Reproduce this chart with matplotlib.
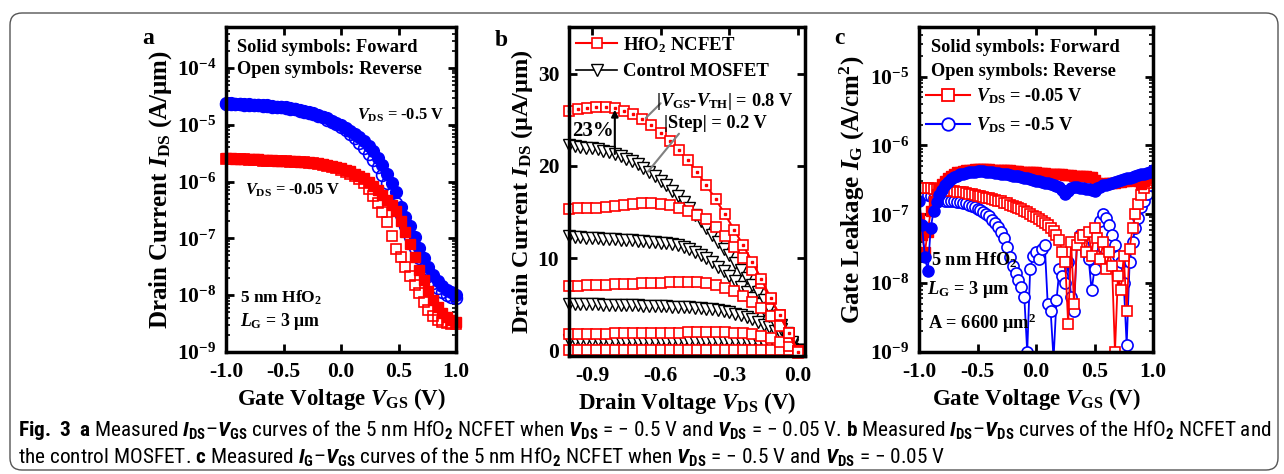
import numpy as np
import matplotlib
matplotlib.use('Agg')
import matplotlib.pyplot as plt
from matplotlib import font_manager
from matplotlib.lines import Line2D
from matplotlib.patches import FancyBboxPatch
from matplotlib.transforms import IdentityTransform
from matplotlib.ticker import FuncFormatter, LogLocator, NullFormatter, FixedLocator

# ---------------- data ----------------
# panel a: log10(I_DS) vs V_GS, sweep -1..1 step 0.04
vgs_a = np.linspace(-1.0, 1.0, 51)
a_blue_fwd = [-4.62, -4.62, -4.63, -4.63, -4.64, -4.64, -4.65, -4.65, -4.66, -4.66,
              -4.67, -4.68, -4.68, -4.69, -4.71, -4.72, -4.74, -4.76, -4.78, -4.80,
              -4.83, -4.86, -4.89, -4.93, -4.97, -5.01, -5.06, -5.11, -5.16, -5.22,
              -5.29, -5.37, -5.46, -5.58, -5.71, -5.86, -6.02, -6.19, -6.45, -6.62,
              -6.79, -6.98, -7.17, -7.35, -7.51, -7.64, -7.75, -7.83, -7.90, -7.95,
              -8.00]
a_blue_rev = [-4.63, -4.63, -4.64, -4.64, -4.65, -4.65, -4.66, -4.66, -4.67, -4.67,
              -4.68, -4.69, -4.69, -4.70, -4.72, -4.73, -4.75, -4.77, -4.79, -4.81,
              -4.84, -4.87, -4.91, -4.95, -4.99, -5.04, -5.10, -5.17, -5.24, -5.32,
              -5.41, -5.51, -5.62, -5.74, -5.88, -6.03, -6.20, -6.38, -6.58, -6.78,
              -6.98, -7.17, -7.35, -7.52, -7.67, -7.79, -7.88, -7.95, -8.00, -8.03,
              -8.05]
a_red_fwd = [-5.59, -5.59, -5.60, -5.60, -5.60, -5.61, -5.61, -5.61, -5.62, -5.62,
             -5.62, -5.63, -5.63, -5.63, -5.64, -5.64, -5.65, -5.65, -5.66, -5.67,
             -5.68, -5.69, -5.70, -5.72, -5.74, -5.76, -5.79, -5.82, -5.86, -5.90,
             -5.94, -6.00, -6.07, -6.15, -6.24, -6.33, -6.42, -6.52, -6.70, -6.88,
             -7.10, -7.33, -7.55, -7.74, -7.92, -8.08, -8.21, -8.31, -8.38, -8.43,
             -8.47]
a_red_rev = [-5.60, -5.60, -5.61, -5.61, -5.61, -5.62, -5.62, -5.62, -5.63, -5.63,
             -5.63, -5.64, -5.64, -5.64, -5.65, -5.65, -5.66, -5.66, -5.67, -5.68,
             -5.69, -5.70, -5.72, -5.74, -5.76, -5.79, -5.83, -5.87, -5.91, -5.95,
             -6.03, -6.13, -6.25, -6.38, -6.53, -6.72, -6.95, -7.18, -7.33, -7.50,
             -7.66, -7.82, -7.97, -8.12, -8.26, -8.37, -8.44, -8.47, -8.49, -8.50,
             -8.50]

# panel b: I_DS (uA/um) vs V_DS
vds_red = np.linspace(-1.0, 0.0, 26)
vds_blk = np.linspace(-1.0, 0.0, 41)
red_08 = [26.0, 26.2, 26.3, 26.4, 26.4, 26.3, 26.0, 25.6, 25.1, 24.4, 23.6, 22.7, 21.7,
          20.6, 19.3, 17.9, 16.4, 14.8, 13.1, 11.4, 9.6, 7.7, 5.7, 3.8, 1.9, -0.2]
red_06 = [15.3, 15.4, 15.5, 15.5, 15.6, 15.7, 15.8, 15.9, 16.0, 16.0, 15.9, 15.8, 15.5,
          15.1, 14.7, 14.2, 13.4, 12.4, 11.2, 10.0, 8.7, 7.3, 5.6, 3.8, 1.9, -0.1]
red_04 = [7.0, 7.0, 7.1, 7.1, 7.1, 7.2, 7.2, 7.2, 7.3, 7.3, 7.3, 7.4, 7.4,
          7.4, 7.4, 7.3, 7.1, 6.8, 6.4, 5.9, 5.3, 4.6, 3.7, 2.7, 1.5, -0.1]
red_02 = [1.8, 1.8, 1.8, 1.8, 1.8, 1.9, 1.9, 1.9, 1.9, 1.9, 1.9, 1.9, 1.9,
          2.0, 2.0, 2.0, 2.0, 2.0, 1.9, 1.9, 1.8, 1.6, 1.3, 0.9, 0.5, -0.1]
red_00 = [0.0, 0.0, 0.0, 0.0, 0.0, 0.0, 0.0, 0.0, 0.0, 0.0, 0.0, 0.0, 0.0,
          0.0, 0.0, 0.0, 0.0, 0.0, 0.0, 0.0, 0.0, 0.0, 0.0, 0.0, 0.0, -0.3]
blk_08 = [22.3, 22.2, 22.1, 22.0, 21.9, 21.8, 21.6, 21.5, 21.3, 21.1,
          20.8, 20.5, 20.2, 19.8, 19.4, 18.9, 18.4, 17.9, 17.3, 16.7,
          16.1, 15.4, 14.7, 14.0, 13.3, 12.5, 11.8, 11.0, 10.3, 9.5,
          8.7, 7.9, 7.1, 6.3, 5.5, 4.6, 3.7, 2.8, 1.9, 0.9, 0.0]
blk_06 = [12.4, 12.3, 12.3, 12.2, 12.2, 12.2, 12.1, 12.1, 12.1, 12.0,
          12.0, 12.0, 11.9, 11.9, 11.8, 11.8, 11.7, 11.6, 11.5, 11.4,
          11.2, 11.0, 10.7, 10.4, 10.0, 9.6, 9.1, 8.6, 8.1, 7.5,
          6.9, 6.3, 5.7, 5.0, 4.4, 3.7, 3.0, 2.3, 1.5, 0.8, 0.0]
blk_04 = [5.0, 5.0, 5.0, 5.0, 5.0, 5.0, 4.9, 4.9, 4.9, 4.9,
          4.9, 4.9, 4.9, 4.8, 4.8, 4.8, 4.8, 4.8, 4.7, 4.7,
          4.7, 4.7, 4.6, 4.6, 4.5, 4.5, 4.4, 4.3, 4.2, 4.0,
          3.8, 3.6, 3.4, 3.1, 2.8, 2.5, 2.1, 1.7, 1.2, 0.6, 0.0]
blk_02 = [1.1, 1.1, 1.1, 1.1, 1.1, 1.1, 1.1, 1.0, 1.0, 1.0,
          1.0, 1.0, 1.0, 1.0, 1.0, 1.0, 1.0, 1.0, 1.0, 1.0,
          1.0, 1.0, 1.0, 1.0, 1.0, 1.0, 1.0, 1.0, 1.0, 1.0,
          1.0, 1.0, 0.95, 0.9, 0.85, 0.8, 0.7, 0.55, 0.4, 0.2, 0.0]

# panel c: log10(I_G) vs V_GS, sweep -1..1 step 0.025
vgs_c = np.linspace(-1.0, 1.0, 81)
c_blue_fwd = [-6.80, -7.15, -7.62, -7.82, -7.20, -6.95, -6.82, -6.72, -6.64, -6.58,
              -6.53, -6.49, -6.46, -6.44, -6.42, -6.41, -6.40, -6.39, -6.38, -6.38,
              -6.37, -6.37, -6.37, -6.38, -6.38, -6.39, -6.40, -6.40, -6.41, -6.42,
              -6.42, -6.43, -6.44, -6.45, -6.45, -6.46, -6.47, -6.48, -6.49, -6.50,
              -6.51, -6.52, -6.53, -6.54, -6.55, -6.56, -6.57, -6.59, -6.61, -6.65,
              -6.70, -6.66, -6.62, -6.61, -6.61, -6.62, -6.62, -6.63, -6.63, -6.64,
              -6.66, -6.62, -6.60, -6.58, -6.57, -6.56, -6.55, -6.53, -6.52, -6.50,
              -6.49, -6.48, -6.47, -6.46, -6.44, -6.43, -6.42, -6.41, -6.40, -6.38,
              -6.36]
c_red_fwd = [-7.05, -7.30, -7.55, -7.25, -6.95, -6.80, -6.70, -6.62, -6.56, -6.51,
             -6.47, -6.44, -6.41, -6.39, -6.38, -6.37, -6.36, -6.35, -6.35, -6.34,
             -6.34, -6.34, -6.34, -6.34, -6.34, -6.35, -6.35, -6.35, -6.35, -6.36,
             -6.36, -6.36, -6.37, -6.37, -6.37, -6.38, -6.38, -6.38, -6.39, -6.39,
             -6.39, -6.40, -6.40, -6.40, -6.41, -6.41, -6.41, -6.42, -6.42, -6.42,
             -6.43, -6.43, -6.43, -6.44, -6.44, -6.44, -6.45, -6.45, -6.46, -6.46,
             -6.50, -6.55, -6.56, -6.56, -6.55, -6.55, -6.54, -6.54, -6.53, -6.53,
             -6.52, -6.51, -6.50, -6.49, -6.48, -6.52, -6.56, -6.52, -6.48, -6.44,
             -6.40]
c_red_rev = [-6.62, -6.62, -6.62, -6.62, -6.62, -6.63, -6.63, -6.64, -6.64, -6.65,
             -6.65, -6.66, -6.66, -6.67, -6.67, -6.68, -6.69, -6.70, -6.71, -6.72,
             -6.73, -6.74, -6.75, -6.76, -6.77, -6.78, -6.79, -6.80, -6.81, -6.83,
             -6.84, -6.86, -6.88, -6.89, -6.91, -6.93, -6.95, -6.97, -6.99, -7.02,
             -7.04, -7.07, -7.10, -7.13, -7.16, -7.20, -7.24, -7.30, -7.38, -7.55,
             -7.70, -8.60, -7.40, -8.30, -7.45, -7.35, -7.30, -7.55, -7.25, -7.60,
             -7.20, -7.35, -7.65, -7.40, -7.80, -7.55, -7.75, -9.00, -7.90, -8.10,
             -7.60, -8.40, -7.50, -7.20, -7.00, -6.85, -6.72, -6.62, -6.55, -6.50,
             -6.45]
c_blue_rev = [-6.72, -6.70, -6.70, -6.72, -6.74, -6.76, -6.77, -6.78, -6.79, -6.80,
              -6.80, -6.81, -6.81, -6.82, -6.82, -6.83, -6.84, -6.86, -6.88, -6.90,
              -6.92, -6.94, -6.97, -7.00, -7.03, -7.08, -7.13, -7.18, -7.25, -7.35,
              -7.48, -7.62, -7.75, -7.85, -7.95, -8.05, -8.20, -9.00, -7.80, -7.60,
              -7.55, -7.65, -7.50, -7.45, -8.30, -8.40, -9.10, -8.25, -7.80, -7.90,
              -8.00, -7.70, -8.20, -8.40, -7.40, -7.30, -7.45, -7.55, -7.65, -8.10,
              -7.80, -7.60, -7.10, -7.00, -7.05, -7.15, -7.30, -7.45, -7.60, -7.70,
              -8.00, -8.90, -7.70, -7.40, -7.20, -7.05, -6.90, -6.80, -6.70, -6.58,
              -6.45]

# ---------------- fonts ----------------
names = {f.name for f in font_manager.fontManager.ttflist}
cap_font = 'Liberation Sans'
for n in ['Liberation Sans Narrow', 'Roboto Condensed', 'Liberation Sans']:
    if n in names:
        cap_font = n
        break

plt.rcParams['font.family'] = 'Liberation Serif'
plt.rcParams['font.weight'] = 'bold'
plt.rcParams['axes.labelweight'] = 'bold'
plt.rcParams['mathtext.fontset'] = 'custom'
plt.rcParams['mathtext.rm'] = 'Liberation Serif:bold'
plt.rcParams['mathtext.it'] = 'Liberation Serif:italic:bold'
plt.rcParams['mathtext.bf'] = cap_font + ':bold'
plt.rcParams['mathtext.sf'] = cap_font
plt.rcParams['mathtext.tt'] = cap_font + ':italic'
plt.rcParams['axes.unicode_minus'] = False

W, H = 1284, 474
fig = plt.figure(figsize=(W / 100, H / 100), dpi=100)


def add_ax(l, t, r, b):
    return fig.add_axes([l / W, 1 - b / H, (r - l) / W, (b - t) / H])


def ftext(x, y, s, **kw):
    kw.setdefault('fontsize', 13.2)
    kw.setdefault('ha', 'left')
    kw.setdefault('va', 'center')
    return fig.text(x / W, 1 - y / H, s, **kw)


def style(ax):
    for sp in ax.spines.values():
        sp.set_linewidth(2.5)
    ax.tick_params(which='both', direction='in', top=True, right=True, labelsize=15.5)
    ax.tick_params(which='major', length=6, width=2, pad=7)
    ax.tick_params(which='minor', length=3, width=1.2)
    for t in ax.get_xticklabels() + ax.get_yticklabels():
        t.set_fontweight('bold')


logfmt = FuncFormatter(lambda v, p: r'$\mathrm{10^{%d}}$' % round(np.log10(v)))
xfmt = FuncFormatter(lambda v, p: '%.1f' % v)
YL = 18

# ---------------- panel a ----------------
ax = add_ax(226, 27, 456, 352)
ax.plot(vgs_a, 10 ** np.array(a_blue_fwd), 'o', color='#0000ff', ms=8.5, mec='#0000ff', clip_on=False)
ax.plot(vgs_a, 10 ** np.array(a_blue_rev), 'o', color='#0000ff', ms=8.5, mfc='none', mew=1.2, clip_on=False)
ax.plot(vgs_a, 10 ** np.array(a_red_fwd), 's', color='#ff0000', ms=7.5, clip_on=False)
ax.plot(vgs_a, 10 ** np.array(a_red_rev), 's', color='#ff0000', ms=7.5, mfc='none', mew=1.2, clip_on=False)
ax.set_yscale('log')
ax.set_xlim(-1.0, 1.0)
ax.set_ylim(1e-9, 10 ** -3.28)
ax.set_xticks([-1.0, -0.5, 0.0, 0.5, 1.0])
ax.xaxis.set_major_formatter(xfmt)
ax.yaxis.set_major_locator(FixedLocator([1e-9, 1e-8, 1e-7, 1e-6, 1e-5, 1e-4]))
ax.yaxis.set_major_formatter(logfmt)
ax.yaxis.set_minor_locator(LogLocator(base=10, subs=np.arange(2, 10)))
ax.yaxis.set_minor_formatter(NullFormatter())
style(ax)
ax.set_xlabel(r'Gate Voltage $\mathit{V}_\mathrm{GS}$ (V)', fontsize=16.5, labelpad=3)
ax.set_ylabel(r'Drain Current $\mathit{I}_\mathrm{DS}$ (A/μm)', fontsize=YL, labelpad=2)

ftext(237, 47, 'Solid symbols: Foward')
ftext(237, 70, 'Open symbols: Reverse')
ftext(357, 115, r'$\mathit{V}_\mathrm{DS}$ = -0.5 V', fontsize=11.8)
ftext(245, 190, r'$\mathit{V}_\mathrm{DS}$ = -0.05 V', fontsize=11.8)
ftext(240, 298, r'5 nm HfO$_\mathrm{2}$', fontsize=12.5)
ftext(240, 322, r'$\mathit{L}_\mathrm{G}$ = 3 μm', fontsize=12.8)

# ---------------- panel b ----------------
ax = add_ax(569, 27, 805, 356)
kb = dict(marker='v', color='black', ms=8.5, mfc='white', mew=1.0, lw=1.2)
kr = dict(marker='s', color='#ff0000', ms=7.5, mfc='white', mew=1.2, lw=1.5)
for yv in [blk_02, blk_04, blk_06, blk_08]:
    ax.plot(vds_blk, yv, clip_on=False, **kb)
for yv in [red_00, red_02, red_04, red_06]:
    ax.plot(vds_red, yv, clip_on=False, **kr)
ax.plot(vds_red, red_08, clip_on=False, **kr)
ax.plot(vds_red, red_08, 's', color='#ff0000', ms=1.5, clip_on=False)
ax.set_xlim(-1.0, 0.03)
ax.set_ylim(-0.6, 35.07)
ax.set_xticks([-0.9, -0.6, -0.3, 0.0])
ax.xaxis.set_major_formatter(xfmt)
ax.set_yticks([0, 10, 20, 30])
style(ax)
ax.set_xlabel(r'Drain Voltage $\mathit{V}_\mathrm{DS}$ (V)', fontsize=16.5, labelpad=3)
ax.set_ylabel(r'Drain Current $\mathit{I}_\mathrm{DS}$ (μA/μm)', fontsize=YL - 0.5, labelpad=2)

hb = [Line2D([], [], **kr), Line2D([], [], **kb)]
ax.legend(hb, [r'HfO$_\mathrm{2}$ NCFET', 'Control MOSFET'], loc='upper left',
          bbox_to_anchor=(576 / W, 1 - 35 / H), bbox_transform=fig.transFigure,
          frameon=False, fontsize=13.5, handlelength=2.2, handletextpad=0.3,
          labelspacing=0.45, borderpad=0, borderaxespad=0)

ax.annotate('', xy=(-0.80, 26.1), xytext=(-0.80, 21.3),
            arrowprops=dict(arrowstyle='-|>', color='black', lw=1.5, mutation_scale=10,
                            shrinkA=0, shrinkB=0))
ax.annotate('', xy=(-0.665, 25.2), xytext=(-0.60, 26.8),
            arrowprops=dict(arrowstyle='-', color='gray', lw=1.5, shrinkA=0, shrinkB=0))
ax.annotate('', xy=(-0.655, 19.4), xytext=(-0.52, 23.5),
            arrowprops=dict(arrowstyle='-', color='gray', lw=1.5, shrinkA=0, shrinkB=0))
ftext(572, 131, '23%', fontsize=15)
ftext(656, 101, r'|$\mathit{V}_\mathrm{GS}$-$\mathit{V}_\mathrm{TH}$| = 0.8 V')
ftext(664, 124, '|Step| = 0.2 V')

# ---------------- panel c ----------------
ax = add_ax(919, 27, 1153, 352)
ax.plot(vgs_c, 10 ** np.array(c_blue_rev), 'o-', color='#0000ff', ms=8, mfc='white', mew=1.2, lw=1.3)
ax.plot(vgs_c, 10 ** np.array(c_red_rev), 's-', color='#ff0000', ms=7, mfc='white', mew=1.2, lw=1.3)
ax.plot(vgs_c, 10 ** np.array(c_red_fwd), 's-', color='#ff0000', ms=7, lw=1.3)
ax.plot(vgs_c, 10 ** np.array(c_blue_fwd), 'o-', color='#0000ff', ms=8, lw=1.3)
ax.set_yscale('log')
ax.set_xlim(-1.0, 1.0)
ax.set_ylim(1e-9, 10 ** -4.28)
ax.set_xticks([-1.0, -0.5, 0.0, 0.5, 1.0])
ax.xaxis.set_major_formatter(xfmt)
ax.yaxis.set_major_locator(FixedLocator([1e-9, 1e-8, 1e-7, 1e-6, 1e-5]))
ax.yaxis.set_major_formatter(logfmt)
ax.yaxis.set_minor_locator(LogLocator(base=10, subs=np.arange(2, 10)))
ax.yaxis.set_minor_formatter(NullFormatter())
style(ax)
ax.set_xlabel(r'Gate Voltage $\mathit{V}_\mathrm{GS}$ (V)', fontsize=16.5, labelpad=3)
ax.set_ylabel(r'Gate Leakage $\mathit{I}_\mathrm{G}$ (A/cm$^\mathrm{2}$)', fontsize=YL, labelpad=2)

hc = [Line2D([], [], marker='s', color='#ff0000', ms=8, mfc='white', mew=1.3, lw=1.5),
      Line2D([], [], marker='o', color='#0000ff', ms=9, mfc='white', mew=1.3, lw=1.5)]
ax.legend(hc, [r'$\mathit{V}_\mathrm{DS}$ = -0.05 V', r'$\mathit{V}_\mathrm{DS}$ = -0.5 V'],
          loc='upper left', bbox_to_anchor=(926 / W, 1 - 86 / H), bbox_transform=fig.transFigure,
          frameon=False, fontsize=13.2, handlelength=2.4, handletextpad=0.3,
          labelspacing=0.55, borderpad=0, borderaxespad=0)
ftext(931, 47, 'Solid symbols: Forward')
ftext(931, 71, 'Open symbols: Reverse')
ftext(931, 260, r'5 nm HfO$_\mathrm{2}$')
ftext(927, 290, r'$\mathit{L}_\mathrm{G}$ = 3 μm')
ftext(928, 323, r'A = 6600 μm$^\mathrm{2}$')

# panel letters
ftext(148, 38, 'a', fontsize=17, ha='center')
ftext(501, 40, 'b', fontsize=17, ha='center')
ftext(839, 38, 'c', fontsize=17, ha='center')

# caption
cap1 = (r'$\mathbf{Fig.\ 3}$  $\mathbf{a}$ Measured $\mathtt{I}_\mathsf{DS}$–$\mathtt{V}_\mathsf{GS}$ '
        r'curves of the 5 nm HfO$_\mathsf{2}$ NCFET when $\mathtt{V}_\mathsf{DS}$ = − 0.5 V and '
        r'$\mathtt{V}_\mathsf{DS}$ = − 0.05 V. $\mathbf{b}$ Measured $\mathtt{I}_\mathsf{DS}$–'
        r'$\mathtt{V}_\mathsf{DS}$ curves of the HfO$_\mathsf{2}$ NCFET and')
cap2 = (r'the control MOSFET. $\mathbf{c}$ Measured $\mathtt{I}_\mathsf{G}$–$\mathtt{V}_\mathsf{GS}$ '
        r'curves of the 5 nm HfO$_\mathsf{2}$ NCFET when $\mathtt{V}_\mathsf{DS}$ = − 0.5 V and '
        r'$\mathtt{V}_\mathsf{DS}$ = − 0.05 V')
ftext(18, 430, cap1, fontsize=15.3, family=cap_font, fontweight='normal')
ftext(18, 456, cap2, fontsize=15.3, family=cap_font, fontweight='normal')

border = FancyBboxPatch((10, 4), 1268, 457, boxstyle='round,pad=0,rounding_size=12',
                        transform=IdentityTransform(), fill=False, ec='#555555', lw=1.0)
fig.add_artist(border)

fig.savefig('out.png', dpi=100)
